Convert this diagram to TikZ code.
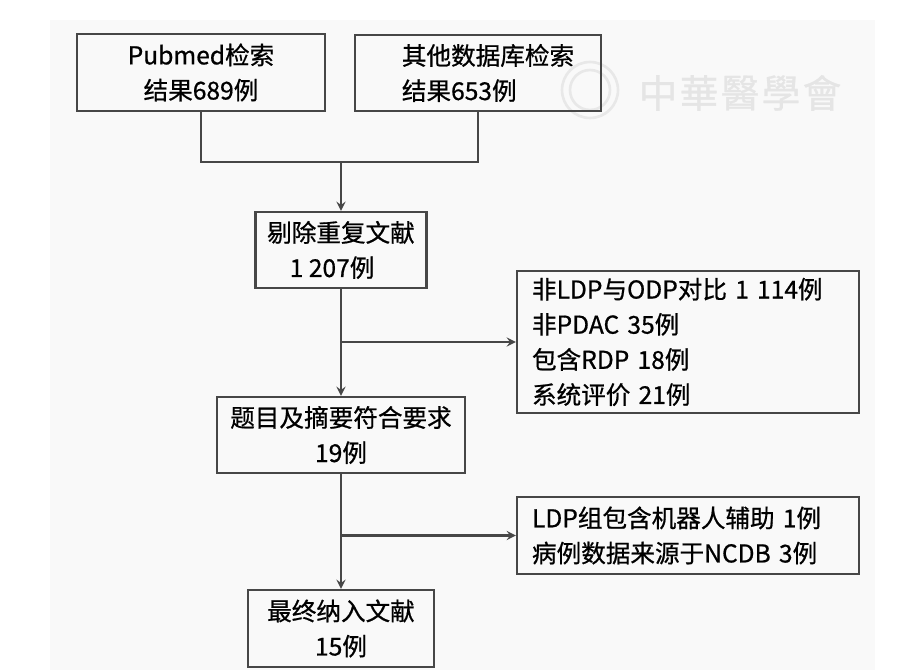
\documentclass[tikz,border=0pt]{standalone}
\usepackage{fontspec}
\setmainfont{Noto Sans CJK SC}[FakeBold=0.7]
\usepackage{tikz}

\begin{document}
\begin{tikzpicture}[x=0.02cm,y=-0.02cm,line width=1.3pt,>=stealth,ln/.style={draw=black!72},box/.style={draw=black!72,rectangle,inner sep=0pt,align=center,font=\fontsize{14}{20}\selectfont},lst/.style={box,align=left,inner xsep=0.3cm,text width=6.24cm},wm/.style={text=black!10,font=\fontsize{22}{22}\selectfont}]
\useasboundingbox (0,0) rectangle (900,672);
\fill[black!2.5] (50,20) rectangle (875,670);
% watermark
\draw[black!9,line width=1.5pt] (590,90) circle[radius=0.56cm] (590,90) circle[radius=0.4cm];
\foreach \c [count=\i] in {中,華,醫,學,會}{\node[wm] (w\i) at (617+41*\i,93) {\c};};
% boxes
\node[box,minimum width=4.96cm,minimum height=1.54cm] (s1) at (201,72.5) {Pubmed检索\\结果689例};
\node[box,align=left,minimum width=4.92cm,minimum height=1.52cm] (s2) at (478,73) {\hspace*{.4cm}其他数据库检索\\\hspace*{.4cm}结果653例};
\node[box,align=left,minimum width=3.42cm,minimum height=1.52cm] (m1) at (341,250) {剔除重复文献\\\hspace*{.45cm}1 207例};
\node[box,minimum width=4.96cm,minimum height=1.52cm] (m2) at (341,435) {题目及摘要符合要求\\19例};
\node[box,minimum width=3.72cm,minimum height=1.54cm] (m3) at (341,628.5) {最终纳入文献\\15例};
\node[lst,minimum height=2.84cm] (e1) at (688,342) {非LDP与ODP对比 1 114例\\非PDAC 35例\\包含RDP 18例\\系统评价 21例};
\node[lst,minimum height=1.54cm] (e2) at (688,535.5) {LDP组包含机器人辅助 1例\\病例数据来源于NCDB 3例};
% connectors
\coordinate (j) at (341,162);
\coordinate (b1) at (341,342);
\coordinate (b2) at (341,535.5);
\draw[ln] (s1.south) |- (j) -| (s2.south);
\draw[ln,->] (j) -- (m1);
\draw[ln,->] (m1) -- (m2);
\draw[ln,->] (m2) -- (m3);
\foreach \i in {1,2}{\draw[ln,->] (b\i) -- (e\i);};
\end{tikzpicture}
\end{document}
